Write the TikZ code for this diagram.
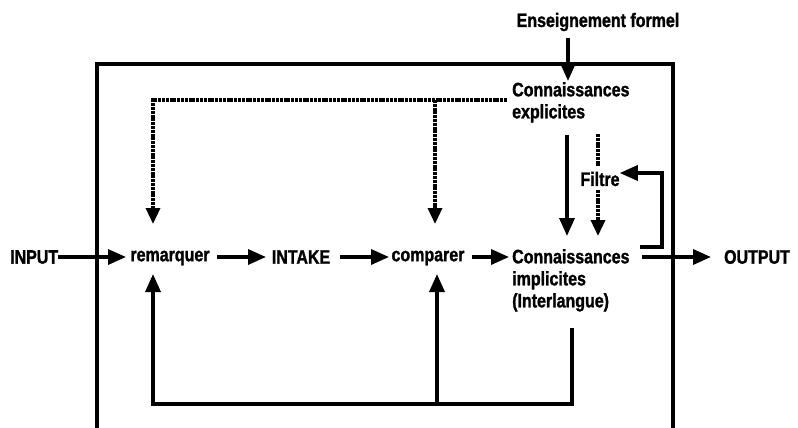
\documentclass[tikz,border=0pt]{standalone}
\usepackage{fontspec}
\setmainfont{Liberation Sans}[FakeStretch=0.82,FakeBold=1.4]
\usetikzlibrary{arrows.meta}
\begin{document}
\begin{tikzpicture}[x=1pt,y=-1pt,
  lbl/.style={inner sep=0pt,font=\fontsize{19.5}{22}\selectfont\bfseries,align=left},
  solidline/.style={line width=3.4pt},
  arr/.style={solidline,-{Triangle[length=18pt,width=15pt]}},
  dotline/.style={line width=3.4pt,dash pattern=on 3pt off 0.8pt},
  dotarr/.style={dotline,-{Triangle[length=16pt,width=14pt]}}]
\useasboundingbox (0,0) rectangle (798,428);

% open frame
\draw[solidline] (97,428) -- (97,64) -- (673,64) -- (673,428);

% labels
\node[lbl] (ens) at (598,22) {Enseignement formel};
\node[lbl,anchor=north west] (expl) at (512,82) {Connaissances\\explicites};
\node[lbl,anchor=north west] (impl) at (512,249) {Connaissances\\implicites\\(Interlangue)};
\node[lbl] (filtre) at (600,179) {Filtre};
\node[lbl,anchor=west] (input) at (10,257) {INPUT};
\node[lbl] (rem) at (170,258) {remarquer};
\node[lbl] (intake) at (301,257) {INTAKE};
\node[lbl] (comp) at (428,258) {comparer};
\node[lbl] (output) at (757,257) {OUTPUT};

% helper points
\coordinate (implL) at (509,257);
\coordinate (implR) at (642,257);
\coordinate (remB) at (153,274);
\coordinate (compB) at (437,274);
\coordinate (remT) at (153,224);
\coordinate (compT) at (435,224);

% main chain
\draw[arr] (input.east) -- (126,257);
\draw[arr] (217,257) -- (266,257);
\draw[arr] (340,257) -- (389,257);
\draw[arr] (472,257) -- (implL);
\draw[arr] (implR) -- (711,257);

% formal teaching into explicit knowledge
\draw[arr] (568,38) -- (568,81);

% explicit knowledge feeding noticing and comparing
\draw[dotarr] (507,100) -- (153,100) -- (remT);
\draw[dotarr] (435,100) -- (compT);

% explicit to implicit
\draw[arr] (567,135) -- (567,236);
\draw[dotline] (598,134) -- (598,166);
\draw[dotarr] (598,190) -- (598,236);

% filter feedback
\draw[arr] (640,247) -- (662,247) -- (662,173) -- (filtre.east |- 0,173);

% interlanguage feedback loop
\draw[arr] (572,328) -- (572,404) -- (153,404) -- (remB);
\draw[arr] (437,404) -- (compB);
\end{tikzpicture}
\end{document}
